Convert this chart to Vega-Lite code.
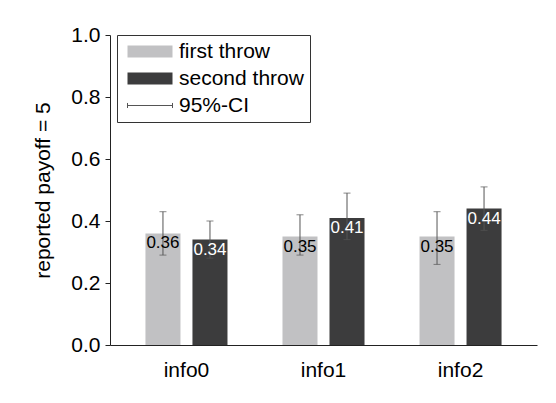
{
  "$schema": "https://vega.github.io/schema/vega-lite/v6.json",
  "autosize": "none",
  "width": 427,
  "height": 310,
  "padding": {"left": 110, "top": 35, "right": 19, "bottom": 58},
  "background": "white",
  "config": {
    "font": "Liberation Sans",
    "view": {"stroke": null},
    "axis": {"grid": false, "domainColor": "#222", "tickColor": "#222", "labelColor": "black", "titleColor": "black", "labelFont": "Liberation Sans", "titleFont": "Liberation Sans"}
  },
  "data": {
    "values": [
      {"info": "info0", "series": "first throw", "value": 0.36, "lower": 0.29, "upper": 0.43},
      {"info": "info0", "series": "second throw", "value": 0.34, "lower": 0.28, "upper": 0.40},
      {"info": "info1", "series": "first throw", "value": 0.35, "lower": 0.29, "upper": 0.42},
      {"info": "info1", "series": "second throw", "value": 0.41, "lower": 0.34, "upper": 0.49},
      {"info": "info2", "series": "first throw", "value": 0.35, "lower": 0.26, "upper": 0.43},
      {"info": "info2", "series": "second throw", "value": 0.44, "lower": 0.37, "upper": 0.51}
    ]
  },
  "encoding": {
    "x": {
      "field": "info", "type": "nominal",
      "scale": {"paddingInner": 0, "paddingOuter": 0.058},
      "axis": {"title": null, "labelAngle": 0, "ticks": false, "labelFontSize": 21, "labelPadding": 14, "domainWidth": 1.2}
    },
    "xOffset": {"field": "series", "type": "nominal", "scale": {"paddingInner": 0.255, "paddingOuter": 0.585}}
  },
  "layer": [
    {
      "mark": {"type": "bar"},
      "encoding": {
        "y": {
          "field": "value", "type": "quantitative",
          "scale": {"domain": [0, 1], "nice": false},
          "axis": {"title": "reported payoff = 5", "values": [0, 0.2, 0.4, 0.6, 0.8, 1.0], "format": ".1f", "tickSize": 5, "labelPadding": 5, "labelFontSize": 21, "titleFontSize": 21, "titleFontWeight": "normal", "titlePadding": 17}
        },
        "color": {
          "field": "series", "type": "nominal",
          "scale": {"domain": ["first throw", "second throw", "95%-CI"], "range": ["#c1c1c3", "#3c3c3d", "#555555"]},
          "legend": {
            "title": null,
            "orient": "none",
            "legendX": 7,
            "legendY": 0,
            "strokeColor": "#333",
            "fillColor": "white",
            "padding": 6,
            "labelFontSize": 21,
            "labelOffset": 35,
            "rowPadding": 5,
            "symbolSize": 144,
            "symbolStrokeWidth": 1,
            "encode": {
              "symbols": {
                "update": {
                  "shape": {"signal": "datum.value === '95%-CI' ? 'M-1,-0.42V0.42M-1,0H6.5M6.5,-0.42V0.42' : 'M-1,-1H6.5V1H-1Z'"},
                  "fill": {"signal": "datum.value === '95%-CI' ? 'transparent' : scale('color', datum.value)"},
                  "stroke": {"signal": "datum.value === '95%-CI' ? '#555555' : 'transparent'"},
                  "strokeWidth": {"value": 1}
                }
              }
            }
          }
        }
      }
    },
    {
      "mark": {"type": "rule", "color": "#555555", "strokeWidth": 1},
      "encoding": {
        "y": {"field": "lower", "type": "quantitative"},
        "y2": {"field": "upper"}
      }
    },
    {
      "mark": {"type": "tick", "color": "#555555", "size": 7, "thickness": 1},
      "encoding": {"y": {"field": "lower", "type": "quantitative"}}
    },
    {
      "mark": {"type": "tick", "color": "#555555", "size": 7, "thickness": 1},
      "encoding": {"y": {"field": "upper", "type": "quantitative"}}
    },
    {
      "mark": {"type": "text", "baseline": "middle", "dy": 10, "fontSize": 17},
      "encoding": {
        "y": {"field": "value", "type": "quantitative"},
        "text": {"field": "value", "type": "quantitative", "format": ".2f"},
        "color": {"condition": {"test": "datum.series === 'second throw'", "value": "white"}, "value": "black"}
      }
    }
  ]
}
